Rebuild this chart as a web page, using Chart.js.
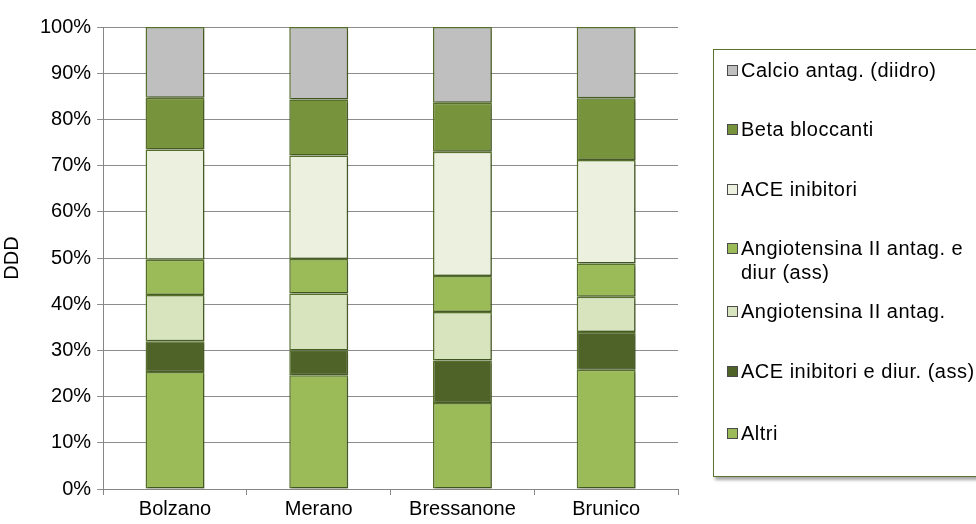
<!DOCTYPE html>
<html lang="it">
<head>
  <meta charset="UTF-8" />
  <title>DDD per comprensorio</title>
  <script src="https://cdn.jsdelivr.net/npm/chart.js"></script>
  <style>
    * { margin: 0; padding: 0; box-sizing: border-box; }
    body { background: #fff; font-family: 'Liberation Sans', Arial, sans-serif; }
    .wrap { position: relative; width: 976px; height: 524px; overflow: hidden; }
    canvas { position: absolute; left: 0; top: 0; }
    .legend {
      position: absolute;
      left: 713px; top: 49px;
      width: 290px; height: 428px;
      border: 1px solid #5b7330;
      background: #fff;
      box-shadow: 2px 3px 3px rgba(0,0,0,0.35);
      list-style: none;
    }
    .legend li {
      position: absolute;
      left: 13px;
      font-size: 20px;
      letter-spacing: 0.5px;
      line-height: 24px;
      color: #000;
      padding-left: 14px;
      white-space: nowrap;
    }
    .legend li span {
      position: absolute;
      left: 0; top: 7px;
      width: 11px; height: 11px;
      border: 1px solid #4a4a4a;
    }
  </style>
</head>
<body>

<div class="wrap">
  <canvas id="chart" width="976" height="524"></canvas>
  <ul class="legend" id="legend"></ul>
</div>

<script>
  const areas = ['Bolzano', 'Merano', 'Bressanone', 'Brunico'];

  // shares in % of DDD, bottom of the stack first
  const altri       = [25.3, 24.6, 18.6, 25.8];
  const aceDiur     = [6.7, 5.4, 9.2, 8.2];
  const angAntag    = [10.0, 12.3, 10.5, 7.6];
  const angDiur     = [7.6, 7.5, 7.8, 7.2];
  const aceInib     = [23.9, 22.4, 26.9, 22.4];
  const betaBlocc   = [11.2, 12.1, 10.6, 13.4];
  const calcioAntag = [15.3, 15.7, 16.4, 15.4];

  const yTicks = [0, 10, 20, 30, 40, 50, 60, 70, 80, 90, 100];

  const series = [
    { label: 'Altri', data: altri, color: '#9bbb59' },
    { label: 'ACE inibitori e diur. (ass)', data: aceDiur, color: '#4f6228' },
    { label: 'Angiotensina II antag.', data: angAntag, color: '#d7e4bd' },
    { label: 'Angiotensina II antag. e\ndiur (ass)', data: angDiur, color: '#9bbb59' },
    { label: 'ACE inibitori', data: aceInib, color: '#ebf1de' },
    { label: 'Beta bloccanti', data: betaBlocc, color: '#77933c' },
    { label: 'Calcio antag. (diidro)', data: calcioAntag, color: '#bfbfbf' }
  ];

  const font = { family: "'Liberation Sans', Arial, sans-serif", size: 20 };

  // soft drop shadow behind the bar segments
  const barShadow = {
    id: 'barShadow',
    beforeDatasetsDraw(c) {
      const ctx = c.ctx;
      ctx.save();
      ctx.shadowColor = 'rgba(0,0,0,0.28)';
      ctx.shadowBlur = 2;
      ctx.shadowOffsetX = 1.5;
      ctx.shadowOffsetY = 1.5;
    },
    afterDatasetsDraw(c) { c.ctx.restore(); }
  };

  const chart = new Chart(document.getElementById('chart'), {
    type: 'bar',
    data: {
      labels: areas,
      datasets: series.map(s => ({
        label: s.label,
        data: s.data,
        backgroundColor: s.color,
        borderColor: '#56702c',
        borderWidth: 1.5,
        borderSkipped: false,
        inflateAmount: 0,
        categoryPercentage: 1,
        barPercentage: 0.41
      }))
    },
    options: {
      responsive: false,
      animation: false,
      layout: { padding: { left: 0, right: 298, top: 27, bottom: 1 } },
      plugins: { legend: { display: false }, tooltip: { enabled: false } },
      scales: {
        x: {
          stacked: true,
          grid: { drawOnChartArea: false, drawTicks: true, tickLength: 6, color: '#868686' },
          border: { color: '#868686', width: 1 },
          ticks: { color: '#000', font: font, padding: 2 }
        },
        y: {
          stacked: true,
          min: 0, max: 100,
          afterBuildTicks: axis => { axis.ticks = yTicks.map(v => ({ value: v })); },
          grid: { color: '#8c8c8c', tickLength: 6 },
          border: { color: '#868686', width: 1 },
          ticks: { color: '#000', font: font, padding: 6, callback: v => v + '%' },
          title: { display: true, text: 'DDD', color: '#000', font: font, padding: { top: 0, bottom: 10 } }
        }
      }
    },
    plugins: [barShadow]
  });

  // legend box, top entry = top of the stack
  const legendTops = [8, 67, 127, 186, 249, 309, 371];
  const ul = document.getElementById('legend');
  chart.data.datasets.slice().reverse().forEach((ds, i) => {
    const li = document.createElement('li');
    li.style.top = legendTops[i] + 'px';
    li.innerHTML = '<span style="background:' + ds.backgroundColor + '"></span>' +
      ds.label.split('\n').join('<br>');
    ul.appendChild(li);
  });
</script>
</body>
</html>
